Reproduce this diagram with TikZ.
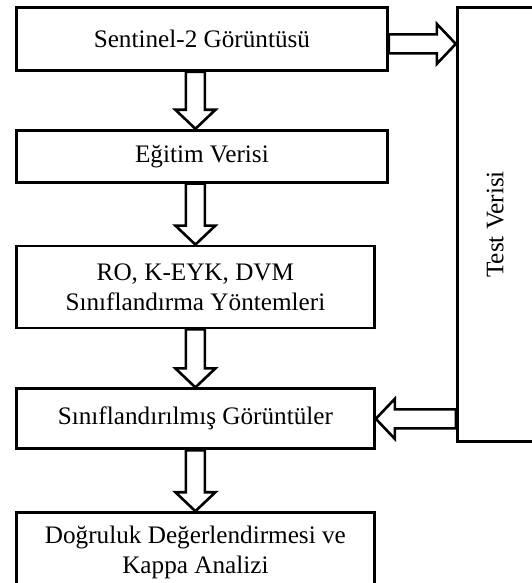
\documentclass[tikz,border=0pt]{standalone}
\usepackage{fontspec}
\setmainfont{Liberation Serif}
\usetikzlibrary{positioning, calc}

\newcommand{\blockarrow}[2]{%
  \coordinate (ba-s) at (#1);
  \coordinate (ba-t) at (#2);
  \coordinate (ba-h) at ($(ba-t)!9.5pt!(ba-s)$);
  \draw[fatarrow] ($(ba-s)!4.75pt!90:(ba-t)$) -- ($(ba-h)!4.75pt!90:(ba-t)$)
    -- ($(ba-h)!10pt!90:(ba-t)$) -- (ba-t) -- ($(ba-h)!10pt!-90:(ba-t)$)
    -- ($(ba-h)!4.75pt!-90:(ba-t)$) -- ($(ba-s)!4.75pt!-90:(ba-t)$) -- cycle;
}

\begin{document}
\begin{tikzpicture}[node distance=29pt, auto]
        \tikzstyle{block} = [rectangle, draw, line width=1.4pt, font=\fontsize{12.6}{15}\selectfont, align=center, inner sep=2pt]
        \tikzstyle{fatarrow} = [draw, fill=white, line width=1.3pt]

        \useasboundingbox (0,0) rectangle (265.5pt,-291.5pt);

        \node [block, minimum width=185.5pt, minimum height=31.5pt, anchor=north west] (sent) at (7.5pt,-3pt) {Sentinel-2 Görüntüsü};
        \node [block, minimum width=185.5pt, minimum height=26pt, below=28.5pt of sent.south west, anchor=north west] (egit) {Eğitim Verisi};
        \node [block, minimum width=179pt, minimum height=41pt, below=30.5pt of egit.south west, anchor=north west] (yont) {RO, K-EYK, DVM\\Sınıflandırma Yöntemleri};
        \node [block, minimum width=179pt, minimum height=30pt, below=29pt of yont.south west, anchor=north west] (sinif) {Sınıflandırılmış Görüntüler};
        \node [block, minimum width=179pt, minimum height=40pt, below=30.5pt of sinif.south west, anchor=north west] (dogru) {Doğruluk Değerlendirmesi ve\\Kappa Analizi};
        \node [block, minimum width=38pt, minimum height=217pt, right=33.5pt of sent.north east, anchor=north west] (test) {\rotatebox{90}{Test Verisi}};

        \blockarrow{sent.south -| yont}{egit.north -| yont}
        \blockarrow{egit.south -| yont}{yont.north}
        \blockarrow{yont.south}{sinif.north}
        \blockarrow{sinif.south}{dogru.north}
        \blockarrow{[yshift=-2.5pt]sent.east}{[yshift=-2.5pt]sent.east -| test.west}
        \blockarrow{sinif.east -| test.west}{sinif.east}
    \end{tikzpicture}
\end{document}
